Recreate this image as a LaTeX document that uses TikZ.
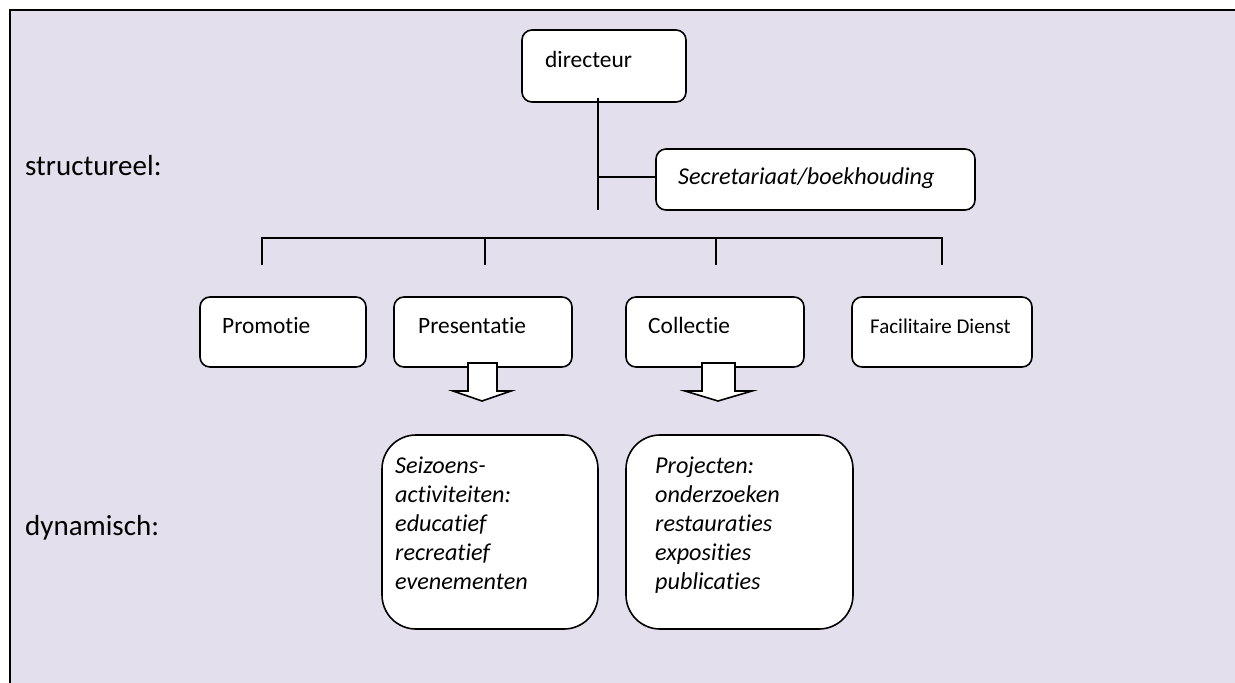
\documentclass[tikz,border=0pt]{standalone}
\usepackage{fontspec}
\setmainfont[Ligatures=NoCommon]{Carlito}
\definecolor{bgc}{HTML}{E4DFEC}
\begin{document}
\begin{tikzpicture}[x=1pt,y=-1pt,
  box/.style={draw=black, line width=1.6pt, fill=white, rounded corners=10pt, inner sep=0pt},
  bigbox/.style={box, rounded corners=34pt},
  lbl/.style={anchor=base west, inner sep=0pt, font=\fontsize{23.4}{28.8}\selectfont},
  side/.style={anchor=base west, inner sep=0pt, font=\fontsize{29}{34}\selectfont},
  ilbl/.style={anchor=base west, inner sep=0pt, font=\fontsize{24.2}{28.8}\selectfont\itshape},
  conn/.style={line width=1.6pt},
  blockarrow/.style={draw=black, line width=1.6pt, fill=white, line join=miter}]
\useasboundingbox (0,0) rectangle (1235,683);
\clip (0,0) rectangle (1235,683);
\fill[bgc] (10,10) rectangle (1240,690);
\draw[line width=2pt] (10,690) -- (10,10) -- (1240,10);

% side labels
\node[side] (lstruct) at (25,175) {structureel:};
\node[side] (ldyn) at (25,535) {dynamisch:};

% boxes
\node[box, minimum width=164pt, minimum height=72pt] (dir) at (604,66) {};
\node[lbl] (tdir) at (545,67) {directeur};
\node[box, minimum width=319pt, minimum height=61pt] (sec) at (815.5,179.5) {};
\node[ilbl] (tsec) at (678,184) {Secretariaat/boekhouding};

\node[box, minimum width=166pt, minimum height=70pt] (pro) at (283,332) {};
\node[lbl] (tpro) at (222,333) {Promotie};
\node[box, minimum width=178pt, minimum height=70pt] (pre) at (483,332) {};
\node[lbl] (tpre) at (418,333) {Presentatie};
\node[box, minimum width=178pt, minimum height=70pt] (col) at (715,332) {};
\node[lbl] (tcol) at (648,333) {Collectie};
\node[box, minimum width=180pt, minimum height=70pt] (fac) at (942,332) {};
\node[lbl, font=\fontsize{21}{26}\selectfont] (tfac) at (870,333) {Facilitaire Dienst};

% connectors
\coordinate (v1) at (598,98);
\coordinate (v2) at (598,210);
\coordinate (vj) at (598,177);
\draw[conn] (v1) -- (v2);
\draw[conn] (vj) -- (vj -| sec.west);

\coordinate (h1) at (262,238);
\coordinate (h4) at (942,238);
\draw[conn] (262,265) -- (h1) -- (h4) -- (942,265);
\draw[conn] (485,238) -- (485,265);
\draw[conn] (716,238) -- (716,265);

% block arrows
\draw[blockarrow] (468,363) -- (497,363) -- (497,391) -- (511,391) -- (482,401) -- (453,391) -- (468,391) -- cycle;
\draw[blockarrow] (702,363) -- (735,363) -- (735,391) -- (752,391) -- (718,401) -- (685,391) -- (702,391) -- cycle;

% dynamic boxes
\node[bigbox, minimum width=216pt, minimum height=194pt] (sei) at (490,532) {};
\node[ilbl, align=left, anchor=north west] (tsei) at (395,457) {Seizoens-\\activiteiten:\\educatief\\recreatief\\evenementen};
\node[bigbox, minimum width=227pt, minimum height=194pt] (prj) at (739.5,532) {};
\node[ilbl, align=left, anchor=north west] (tprj) at (655,457) {Projecten:\\onderzoeken\\restauraties\\exposities\\publicaties};
\end{tikzpicture}
\end{document}
